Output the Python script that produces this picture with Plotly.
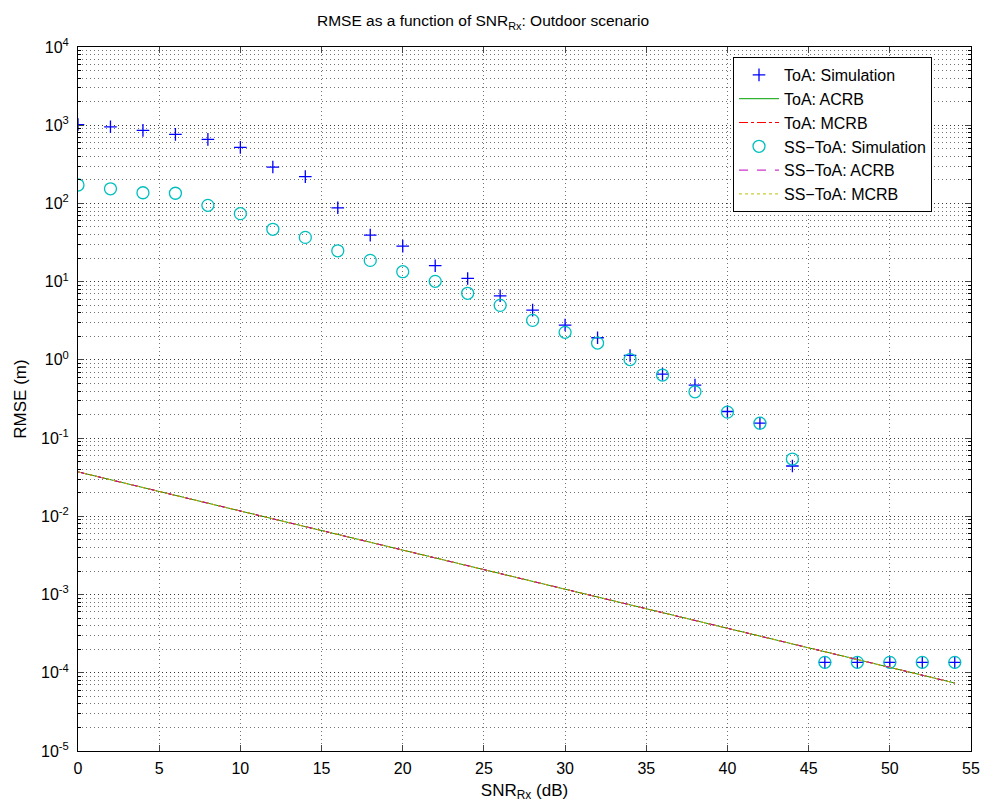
import plotly.graph_objects as go

snr_db = [0, 2, 4, 6, 8, 10, 12, 14, 16, 18, 20, 22, 24, 26, 28, 30, 32, 34, 36, 38,
          40, 42, 44, 46, 48, 50, 52, 54]
toa_sim = [1020, 955, 860, 764, 659, 521, 292, 220, 88, 39.4, 28.5, 16, 11, 6.6, 4.33,
           2.79, 1.92, 1.14, 0.658, 0.476, 0.219, 0.155, 0.044,
           1.36e-4, 1.36e-4, 1.36e-4, 1.36e-4, 1.36e-4]
sstoa_sim = [172, 154, 137, 135, 94.6, 74, 46.7, 36.8, 24.8, 18.7, 13.4, 10.1, 7.1, 4.98,
             3.2, 2.25, 1.64, 1.01, 0.64, 0.391, 0.215, 0.155, 0.054,
             1.36e-4, 1.36e-4, 1.36e-4, 1.36e-4, 1.36e-4]
# bound lines (straight on log scale): endpoints
bound_x = [0, 54]
toa_acrb = [0.037, 7.4e-5]
toa_mcrb = [0.037, 7.4e-5]
sstoa_acrb = [0.037, 7.4e-5]
sstoa_mcrb = [0.037, 7.4e-5]

y_tickvals = [1e-5, 1e-4, 1e-3, 1e-2, 1e-1, 1, 10, 100, 1000, 1e4]
y_ticktext = ["10<sup>-5</sup>", "10<sup>-4</sup>", "10<sup>-3</sup>", "10<sup>-2</sup>",
              "10<sup>-1</sup>", "10<sup>0</sup>", "10<sup>1</sup>", "10<sup>2</sup>",
              "10<sup>3</sup>", "10<sup>4</sup>"]
x_tickvals = [0, 5, 10, 15, 20, 25, 30, 35, 40, 45, 50, 55]

FONT = "Liberation Sans, Arial, sans-serif"
FS = 16
# the page body has an 8px margin, so the figure is 8px smaller than the window
W, H = 980, 796
OFF = 8

fig = go.Figure()
fig.add_trace(go.Scatter(x=snr_db, y=toa_sim, mode="markers", name="ToA: Simulation",
                         marker=dict(symbol="cross-thin-open", size=9, color="#0000ff",
                                     line=dict(width=1.3, color="#0000ff"))))
fig.add_trace(go.Scatter(x=bound_x, y=toa_acrb, mode="lines", name="ToA: ACRB",
                         line=dict(color="#00a000", width=1)))
fig.add_trace(go.Scatter(x=bound_x, y=toa_mcrb, mode="lines", name="ToA: MCRB",
                         line=dict(color="#ff0000", width=1, dash="dashdot")))
fig.add_trace(go.Scatter(x=snr_db, y=sstoa_sim, mode="markers", name="SS\u2212ToA: Simulation",
                         marker=dict(symbol="circle-open", size=12, color="#00bfbf",
                                     line=dict(width=1.3, color="#00bfbf"))))
fig.add_trace(go.Scatter(x=bound_x, y=sstoa_acrb, mode="lines", name="SS\u2212ToA: ACRB",
                         line=dict(color="#bf00bf", width=1, dash="dash")))
fig.add_trace(go.Scatter(x=bound_x, y=sstoa_mcrb, mode="lines", name="SS\u2212ToA: MCRB",
                         line=dict(color="#bfbf00", width=1, dash="dot")))

L, R, T, B = 78 - OFF, W + OFF - 971, 47 - OFF, H + OFF - 751
PW, PH = W - L - R, H - T - B

grid_col = "rgba(0,0,0,0.55)"
fig.update_layout(
    width=W, height=H,
    margin=dict(l=L, r=R, t=T, b=B, autoexpand=False),
    paper_bgcolor="white", plot_bgcolor="white",
    font=dict(family=FONT, size=FS, color="black"),
    title=dict(text="RMSE as a function of SNR<sub>Rx</sub>: Outdoor scenario",
               x=(483 - OFF) / W, xanchor="center", y=1 - (21 - OFF) / H, yanchor="middle",
               font=dict(size=15.5)),
    showlegend=True,
    legend=dict(x=(733 - 78) / PW, y=(751 - 57) / PH, xanchor="left", yanchor="top",
                bordercolor="black", borderwidth=1, bgcolor="white",
                font=dict(size=16), tracegroupgap=0, itemwidth=40),
    xaxis=dict(range=[0, 55], tickvals=x_tickvals, ticks="inside", ticklen=6,
               showline=True, linecolor="black", linewidth=1, mirror="allticks",
               showgrid=True, gridcolor=grid_col, griddash="1px,3px", gridwidth=1,
               zeroline=False, tickfont=dict(size=FS), automargin=False,
               ticklabelstandoff=3,
               title=dict(text="SNR<sub>Rx</sub> (dB)", standoff=7, font=dict(size=17))),
    yaxis=dict(type="log", range=[-5, 4], tickvals=y_tickvals, ticktext=y_ticktext,
               ticks="inside", ticklen=6,
               showline=True, linecolor="black", linewidth=1, mirror="allticks",
               showgrid=True, gridcolor=grid_col, griddash="1px,3px", gridwidth=1,
               zeroline=False, tickfont=dict(size=FS), automargin=False,
               ticklabelstandoff=5,
               minor=dict(dtick="D1", ticks="inside", ticklen=3, showgrid=True,
                          gridcolor=grid_col, griddash="1px,3px", gridwidth=1,
                          tickcolor="black"),
               title=dict(text="RMSE (m)", standoff=10, font=dict(size=17))),
)

fig.write_html("out.html")
